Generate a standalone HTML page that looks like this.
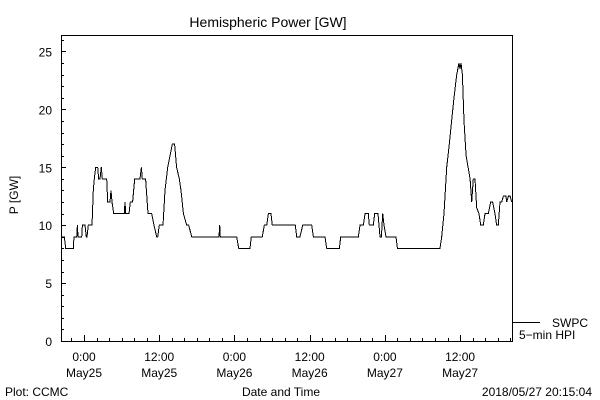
<!DOCTYPE html>
<html><head><meta charset="utf-8"><style>
body{margin:0;background:#fff}
svg{display:block;font-family:"Liberation Sans",sans-serif}
text{fill:#000}
</style></head><body>
<svg id="c" width="600" height="400" xmlns="http://www.w3.org/2000/svg">
<rect x="0" y="0" width="600" height="400" fill="#fff"/>
<text x="268" y="27" font-size="14" text-anchor="middle">Hemispheric Power [GW]</text>
<rect x="61.5" y="35.5" width="451" height="306" fill="none" stroke="#000" stroke-width="1" shape-rendering="crispEdges"/>
<g id="yt" shape-rendering="crispEdges"></g>
<g id="xt" shape-rendering="crispEdges"></g>
<text transform="translate(18,195) rotate(-90)" font-size="12" text-anchor="middle">P [GW]</text>
<path id="series" fill="none" stroke="#000" stroke-width="1" shape-rendering="crispEdges"/>
<line x1="512" y1="322.5" x2="540" y2="322.5" stroke="#000" shape-rendering="crispEdges"/>
<text x="552" y="327" font-size="12">SWPC</text>
<text x="519" y="339" font-size="12">5−min HPI</text>
<text x="5" y="396" font-size="12">Plot: CCMC</text>
<text x="281" y="396" font-size="12" text-anchor="middle">Date and Time</text>
<text x="592" y="396" font-size="12" text-anchor="end">2018/05/27 20:15:04</text>
</svg>
<script>
// hours since 2018-05-25 00:00
const hours = [-3.67,-3.14,-2.92,-1.70,-1.60,-1.17,-1.06,-0.96,-0.37,-0.26,0.16,0.37,0.48,0.69,1.28,1.49,1.65,1.86,2.18,2.34,2.55,2.76,2.92,3.62,3.78,3.94,4.15,4.31,4.47,4.73,6.43,6.54,6.65,7.18,7.39,7.76,8.08,8.93,9.15,9.30,9.83,10.21,10.80,11.17,11.60,11.75,12.02,12.60,12.92,13.35,13.72,14.09,14.46,14.78,15.21,15.48,15.85,16.38,16.70,17.18,21.54,21.65,21.75,24.36,24.68,26.48,26.69,28.45,28.77,29.14,29.41,29.83,30.04,33.71,33.93,34.46,34.89,36.32,36.59,38.45,38.72,40.74,40.95,43.77,44.03,44.57,44.83,45.36,45.52,46.16,46.37,46.90,47.22,47.44,47.65,47.86,48.18,49.78,49.99,56.80,57.06,57.43,57.86,58.28,58.65,59.03,59.45,59.82,59.98,60.14,60.36,60.63,60.95,61.59,61.85,62.11,62.38,62.65,63.02,63.28,63.70,63.97,64.50,64.88,65.19,65.57,65.83,66.10,66.37,66.63,66.90,67.32,67.43,67.70,67.97,68.24];
const power = [9,9,8,8,9,9,10,9,9,10,10,9,9,10,10,13,14,15,15,14,14,15,14,14,12,12,12,13,12,11,11,12,11,11,12,12,14,14,15,14,14,11,11,10,9,9,10,10,13,15,16,17,17,15,14,13,11,10,10,9,9,10,9,9,8,8,9,9,10,10,11,11,10,10,9,9,10,10,9,9,8,8,9,9,10,10,11,11,10,10,11,11,9,9,11,10,9,9,8,8,9,11,15,17,19,21,23,24,23.5,24,23,19,16,14,12,14,14,11.5,11,10,10,11,11,12,12,11,10,10,12,12,12.5,12.5,12,12.5,12.5,12];
const yTicks = [0,5,10,15,20,25];
const xTickHours = [0,12,24,36,48,60];
const xTickTimes = ["0:00","12:00","0:00","12:00","0:00","12:00"];
const xTickDates = ["May25","May25","May26","May26","May27","May27"];

const NS="http://www.w3.org/2000/svg";
const X0=61,X1=512,Y0=341,Y1=35;
const hMin=-3.67,hMax=68.28,vMin=0,vMax=26.42;
const xs=h=>X0+(h-hMin)/(hMax-hMin)*(X1-X0);
const ys=v=>Y0-(v-vMin)/(vMax-vMin)*(Y0-Y1);
function mk(tag,attrs,parent){const e=document.createElementNS(NS,tag);for(const k in attrs)e.setAttribute(k,attrs[k]);parent.appendChild(e);return e;}
const yt=document.getElementById('yt'),xt=document.getElementById('xt');
for(let v=0;v<=26;v++){
  const y=Math.round(ys(v))+0.5,maj=v%5===0;
  const l=mk('line',{x1:X0,x2:X0+(maj?5:3),y1:y,y2:y,stroke:'#000'},yt);
  
  
}
yTicks.forEach(v=>{
  const t=mk('text',{x:52,y:ys(v)+5,'font-size':12,'text-anchor':'end'},yt);
  t.textContent=v;
  
  
});
for(let h=-2;h<=68;h+=2){
  const x=Math.round(xs(h))+0.5,maj=h%12===0;
  const l=mk('line',{x1:x,x2:x,y1:Y0,y2:Y0-(maj?6:3),stroke:'#000'},xt);
  
  
}
xTickHours.forEach((h,i)=>{
  const x=xs(h);
  const t=mk('text',{x:x,y:361,'font-size':12,'text-anchor':'middle'},xt);
  t.textContent=xTickTimes[i];
  
  
  const d=mk('text',{x:x,y:377,'font-size':12,'text-anchor':'middle'},xt);
  d.textContent=xTickDates[i];
  
  
});
let d='';
hours.forEach((h,i)=>{d+=(i?'L':'M')+xs(h).toFixed(1)+' '+ys(power[i]).toFixed(1);});
document.getElementById('series').setAttribute('d',d);
</script>
</body></html>
